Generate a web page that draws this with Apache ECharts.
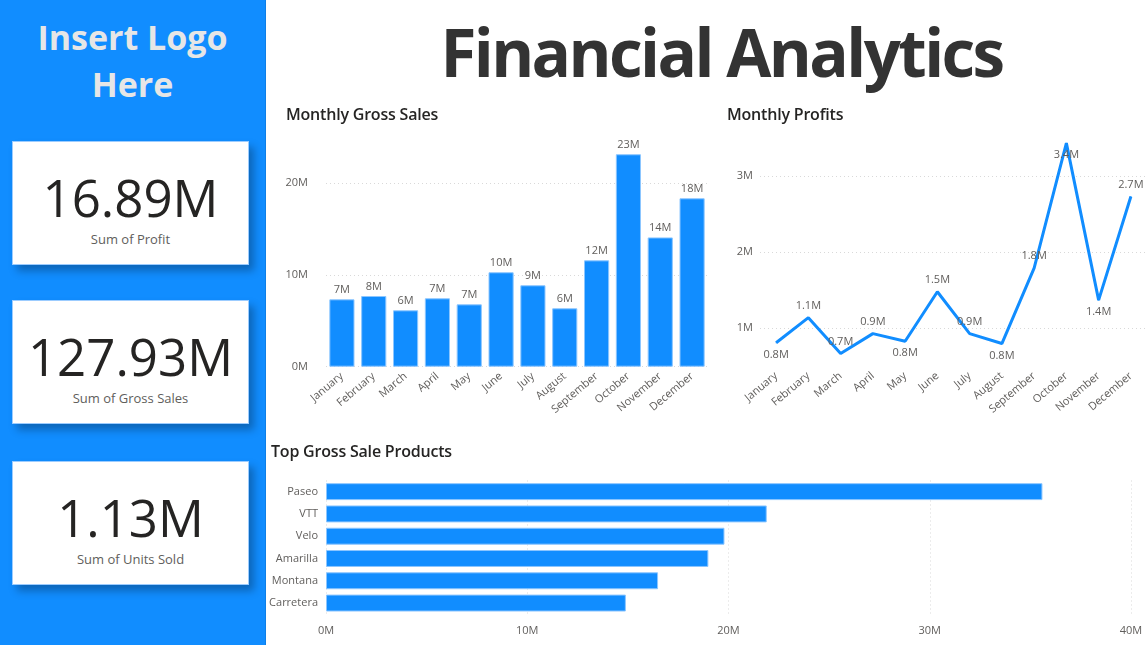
<!DOCTYPE html>
<html>
<head>
<meta charset="utf-8">
<script src="https://cdn.jsdelivr.net/npm/echarts@6/dist/echarts.min.js"></script>
<style>
  html, body { margin: 0; padding: 0; width: 1147px; height: 645px; overflow: hidden; background: #fff; font-family: "Open Sans", "Noto Sans", sans-serif; }
  #side { position: absolute; left: 0; top: 0; width: 265px; height: 645px; background: #118DFF; border-right: 1px solid #0f7fe6; }
  #logo { position: absolute; left: 0; top: 14px; width: 265px; text-align: center; color: #E6E6E6; font-weight: 700; font-size: 34px; line-height: 47px; }
  .card { position: absolute; left: 12px; width: 235px; height: 122px; background: #fff; border: 1px solid #9cccff; box-shadow: 5px 6px 8px rgba(0,0,0,0.28); text-align: center; }
  .card .num { position: absolute; left: 0; width: 100%; top: 20px; font-size: 51px; line-height: 70px; color: #252423; }
  .card .lab { position: absolute; left: 0; width: 100%; top: 88px; font-size: 13px; line-height: 18px; color: #605E5C; }
  #title { position: absolute; left: 281px; width: 881px; top: 9px; text-align: center; font-weight: 700; font-size: 65.5px; line-height: 86px; color: #333333; letter-spacing: -2.6px; }
  .ctitle { position: absolute; font-size: 16px; color: #252423; font-weight: 600; letter-spacing: -0.2px; }
  #chart { position: absolute; left: 0; top: 0; width: 1147px; height: 645px; }
</style>
</head>
<body>
<div id="side"></div>
<div id="logo">Insert Logo<br>Here</div>
<div class="card" style="top:141px"><div class="num">16.89M</div><div class="lab">Sum of Profit</div></div>
<div class="card" style="top:300px"><div class="num">127.93M</div><div class="lab">Sum of Gross Sales</div></div>
<div class="card" style="top:461px"><div class="num">1.13M</div><div class="lab">Sum of Units Sold</div></div>
<div id="title">Financial Analytics</div>
<div id="chart"></div>
<div class="ctitle" style="left:286px; top:103px;">Monthly Gross Sales</div>
<div class="ctitle" style="left:727px; top:103px;">Monthly Profits</div>
<div class="ctitle" style="left:271px; top:440px;">Top Gross Sale Products</div>
<script>
// ---- data ----
const months = ["January","February","March","April","May","June","July","August","September","October","November","December"];
const grossSales = [7.35e6, 7.71e6, 6.15e6, 7.46e6, 6.80e6, 10.30e6, 8.88e6, 6.37e6, 11.60e6, 23.17e6, 14.10e6, 18.37e6];
const profits = [0.81e6, 1.14e6, 0.67e6, 0.93e6, 0.83e6, 1.48e6, 0.93e6, 0.80e6, 1.79e6, 3.43e6, 1.37e6, 2.73e6];
const profitLabelPos = ["bottom","top","top","top","bottom","top","top","bottom","top","bottom","bottom","top"];
const products = ["Paseo","VTT","Velo","Amarilla","Montana","Carretera"];
const productSales = [35.6e6, 21.9e6, 19.8e6, 19.0e6, 16.5e6, 14.9e6];

const BLUE = "#118DFF";
const GREY = "#605E5C";
const FONT = "Open Sans";
const grid = (l, r, t, b) => ({ left: l, right: r, top: t, bottom: b, containLabel: false });
const dotted = { show: true, lineStyle: { color: "#d9d9d9", type: [1, 3], width: 1 } };

const chart = echarts.init(document.getElementById("chart"));
chart.setOption({
  animation: false,
  textStyle: { fontFamily: FONT },
  grid: [
    grid(326, 439, 137.5, 278.3),
    grid(760, 0, 137.8, 278.6),
    grid(326, 16, 480.5, 30.8)
  ],
  xAxis: [
    { gridIndex: 0, type: "category", data: months, axisLine: { show: false }, axisTick: { show: false },
      axisLabel: { interval: 0, rotate: 40, fontSize: 11, color: GREY, margin: 8 } },
    { gridIndex: 1, type: "category", data: months, boundaryGap: true, axisLine: { show: false }, axisTick: { show: false },
      axisLabel: { interval: 0, rotate: 40, fontSize: 11, color: GREY, margin: 8 } },
    { gridIndex: 2, type: "value", min: 0, max: 40e6, interval: 10e6,
      axisLabel: { fontSize: 11, color: GREY, margin: 11, formatter: v => (v / 1e6) + "M" },
      splitLine: dotted, axisLine: { show: false }, axisTick: { show: false } }
  ],
  yAxis: [
    { gridIndex: 0, type: "value", min: 0, max: 25e6, interval: 10e6,
      axisLabel: { fontSize: 11, color: GREY, margin: 18, showMaxLabel: false, formatter: v => (v / 1e6) + "M" },
      splitLine: { show: true, showMaxLine: false, lineStyle: { color: "#d9d9d9", type: [1, 3] } },
      axisLine: { show: false }, axisTick: { show: false } },
    { gridIndex: 1, type: "value", min: 0.5e6, max: 3.5e6, interval: 0.5e6,
      axisLabel: { fontSize: 11, color: GREY, margin: 7, showMinLabel: false, showMaxLabel: false,
        formatter: v => (v % 1e6 === 0 ? (v / 1e6) + "M" : "") },
      splitLine: { show: true, lineStyle: { color: ["rgba(0,0,0,0)", "#d9d9d9"], type: [1, 3] } },
      axisLine: { show: false }, axisTick: { show: false } },
    { gridIndex: 2, type: "category", data: products, inverse: true, axisLine: { show: false }, axisTick: { show: false },
      axisLabel: { fontSize: 11, color: GREY, margin: 8 } }
  ],
  series: [
    { type: "bar", xAxisIndex: 0, yAxisIndex: 0, data: grossSales, barCategoryGap: "21%",
      itemStyle: { color: BLUE, borderColor: "#8cc6ff", borderWidth: 1 },
      label: { show: true, position: "top", distance: 4, fontSize: 11, color: GREY,
        formatter: p => Math.round(p.value / 1e6) + "M" } },
    { type: "line", xAxisIndex: 1, yAxisIndex: 1,
      data: profits.map((v, i) => ({ value: v, label: { position: profitLabelPos[i] } })),
      symbol: "circle", symbolSize: 1, showSymbol: true,
      lineStyle: { color: BLUE, width: 3 }, itemStyle: { color: BLUE },
      label: { show: true, fontSize: 11, color: GREY, distance: 6,
        formatter: p => (p.value / 1e6).toFixed(1) + "M" } },
    { type: "bar", xAxisIndex: 2, yAxisIndex: 2, data: productSales, barCategoryGap: "24%",
      itemStyle: { color: BLUE, borderColor: "#8cc6ff", borderWidth: 1 } }
  ]
});
</script>
</body>
</html>
